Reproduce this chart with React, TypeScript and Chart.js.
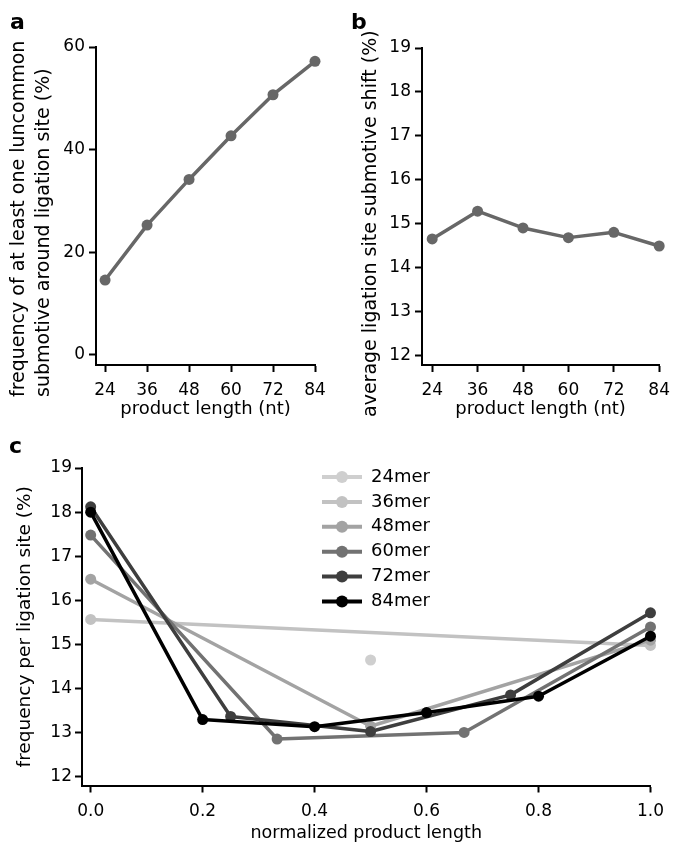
import React, { useEffect, useRef } from "react";
import { Chart, registerables } from "chart.js";

Chart.register(...registerables);

// ---------- data ----------
const lengthsNt = [24, 36, 48, 60, 72, 84];
const uncommonFreq = [14.6, 25.3, 34.2, 42.7, 50.7, 57.2];
const avgShift = [14.66, 15.29, 14.91, 14.69, 14.81, 14.5];

const ticksA = [0, 20, 40, 60];
const ticksB = [12, 13, 14, 15, 16, 17, 18, 19];
const ticksCX = [0, 0.2, 0.4, 0.6, 0.8, 1.0];
const ticksCY = [12, 13, 14, 15, 16, 17, 18, 19];

const seriesLabels = ["24mer", "36mer", "48mer", "60mer", "72mer", "84mer"];

const pos24 = [0.5];
const val24 = [14.65];
const pos36 = [0, 1];
const val36 = [15.57, 14.98];
const pos48 = [0, 0.5, 1];
const val48 = [16.48, 13.15, 15.1];
const pos60 = [0, 0.333, 0.667, 1];
const val60 = [17.48, 12.86, 13.01, 15.4];
const pos72 = [0, 0.25, 0.5, 0.75, 1];
const val72 = [18.12, 13.37, 13.03, 13.86, 15.72];
const pos84 = [0, 0.2, 0.4, 0.6, 0.8, 1];
const val84 = [18.0, 13.3, 13.14, 13.46, 13.83, 15.19];

// ---------- styles ----------
const FONT = "'DejaVu Sans', 'Liberation Sans', sans-serif";
const GRAY = "#676767";
const seriesColors = ["#cfcfcf", "#c2c2c2", "#a3a3a3", "#727272", "#3e3e3e", "#000000"];

const toPts = (xs: number[], ys: number[]) => xs.map((x, i) => ({ x, y: ys[i] }));

const fixedTicks = (values: number[]) => (scale: any) => {
  scale.ticks = values.map((v) => ({ value: v }));
};

const overlayPlugin = {
  id: "overlay",
  afterDraw(chart: any, _args: any, opts: any) {
    const ctx = chart.ctx;
    ctx.save();
    ctx.fillStyle = "#000";
    if (opts.letter) {
      ctx.font = `bold ${opts.letter.size}px ${FONT}`;
      ctx.textAlign = "left";
      ctx.textBaseline = "alphabetic";
      ctx.fillText(opts.letter.text, opts.letter.x, opts.letter.y);
    }
    (opts.vtitles || []).forEach((t: any) => {
      ctx.save();
      ctx.translate(t.x, t.y);
      ctx.rotate(-Math.PI / 2);
      ctx.font = `${t.size}px ${FONT}`;
      ctx.textAlign = "left";
      ctx.textBaseline = "middle";
      ctx.fillStyle = "#000";
      ctx.fillText(t.text, 0, 0);
      ctx.restore();
    });
    if (opts.legend) {
      const L = opts.legend;
      chart.data.datasets.forEach((ds: any, i: number) => {
        const y = L.y + i * L.step;
        ctx.strokeStyle = ds.borderColor;
        ctx.fillStyle = ds.borderColor;
        ctx.lineWidth = 4;
        ctx.lineCap = "butt";
        ctx.beginPath();
        ctx.moveTo(L.x, y);
        ctx.lineTo(L.x + L.lineLen, y);
        ctx.stroke();
        ctx.beginPath();
        ctx.arc(L.x + L.lineLen / 2, y, 6, 0, Math.PI * 2);
        ctx.fill();
        ctx.fillStyle = "#000";
        ctx.font = `${L.size}px ${FONT}`;
        ctx.textAlign = "left";
        ctx.textBaseline = "middle";
        ctx.fillText(ds.label, L.x + L.lineLen + L.gap, y);
      });
    }
    ctx.restore();
  },
};

function axis(o: {
  min: number;
  max: number;
  ticks: number[];
  fmt: (v: number) => string;
  width?: number;
  height?: number;
  pad: number;
  title?: any;
}) {
  return {
    type: "linear",
    min: o.min,
    max: o.max,
    afterBuildTicks: fixedTicks(o.ticks),
    afterFit: (s: any) => {
      if (o.width !== undefined) s.width = o.width;
      if (o.height !== undefined) s.height = o.height;
    },
    grid: {
      display: true,
      drawOnChartArea: false,
      drawTicks: true,
      tickLength: 7,
      tickWidth: 2,
      tickColor: "#000",
      color: "#000",
    },
    border: { display: true, color: "#000", width: 2 },
    ticks: {
      autoSkip: false,
      maxRotation: 0,
      minRotation: 0,
      padding: o.pad,
      color: "#000",
      font: { family: FONT, size: 17 },
      callback: (v: any) => o.fmt(Number(v)),
    },
    title: o.title || { display: false },
  };
}

const baseOptions = {
  animation: false,
  responsive: false,
  maintainAspectRatio: false,
  events: [],
  plugins: { legend: { display: false }, tooltip: { enabled: false } },
};

function lineDs(label: string, data: any[], color: string, order = 0) {
  return {
    label,
    data,
    borderColor: color,
    backgroundColor: color,
    pointBackgroundColor: color,
    pointBorderColor: color,
    pointBorderWidth: 0,
    borderWidth: 3.5,
    pointRadius: 5.5,
    tension: 0,
    clip: false,
    borderCapStyle: "round",
    borderJoinStyle: "round",
    order,
  };
}

function configA(): any {
  return {
    type: "line",
    data: { datasets: [lineDs("a", toPts(lengthsNt, uncommonFreq), GRAY)] },
    options: {
      ...baseOptions,
      layout: { padding: { top: 47, right: 24, left: 0, bottom: 0 } },
      plugins: {
        ...baseOptions.plugins,
        overlay: {
          letter: { text: "a", x: 10, y: 29, size: 22 },
          vtitles: [
            { text: "frequency of at least one luncommon", x: 19, y: 397, size: 19 },
            { text: "submotive around ligation site (%)", x: 44.5, y: 397, size: 19 },
          ],
        },
      },
      scales: {
        x: axis({
          min: 21.4,
          max: 84,
          ticks: lengthsNt,
          fmt: (v) => String(v),
          height: 55,
          pad: 8,
          title: {
            display: true,
            text: "product length (nt)",
            color: "#000",
            font: { family: FONT, size: 18 },
            padding: { top: 0, bottom: 0 },
          },
        }),
        y: axis({ min: -1.95, max: 60, ticks: ticksA, fmt: (v) => String(v), width: 96, pad: 4 }),
      },
    },
    plugins: [overlayPlugin],
  };
}

function configB(): any {
  return {
    type: "line",
    data: { datasets: [lineDs("b", toPts(lengthsNt, avgShift), GRAY)] },
    options: {
      ...baseOptions,
      layout: { padding: { top: 48, right: 13, left: 0, bottom: 0 } },
      plugins: {
        ...baseOptions.plugins,
        overlay: {
          letter: { text: "b", x: 12, y: 29, size: 22 },
          vtitles: [{ text: "average ligation site submotive shift (%)", x: 32, y: 417, size: 19 }],
        },
      },
      scales: {
        x: axis({
          min: 21.3,
          max: 84,
          ticks: lengthsNt,
          fmt: (v) => String(v),
          height: 55,
          pad: 8,
          title: {
            display: true,
            text: "product length (nt)",
            color: "#000",
            font: { family: FONT, size: 18 },
            padding: { top: 0, bottom: 0 },
          },
        }),
        y: axis({ min: 11.795, max: 19, ticks: ticksB, fmt: (v) => String(v), width: 83, pad: 4 }),
      },
    },
    plugins: [overlayPlugin],
  };
}

function configC(): any {
  const posList = [pos24, pos36, pos48, pos60, pos72, pos84];
  const valList = [val24, val36, val48, val60, val72, val84];
  const datasets = seriesLabels.map((lab, i) =>
    lineDs(lab, toPts(posList[i], valList[i]), seriesColors[i], seriesLabels.length - 1 - i)
  );
  return {
    type: "line",
    data: { datasets },
    options: {
      ...baseOptions,
      layout: { padding: { top: 48, right: 27.5, left: 0, bottom: 0 } },
      plugins: {
        ...baseOptions.plugins,
        overlay: {
          letter: { text: "c", x: 9, y: 33, size: 22 },
          legend: { x: 322, y: 57, step: 24.9, lineLen: 40, gap: 9, size: 18 },
        },
      },
      scales: {
        x: axis({
          min: -0.0155,
          max: 1,
          ticks: ticksCX,
          fmt: (v) => v.toFixed(1),
          height: 58.5,
          pad: 9,
          title: {
            display: true,
            text: "normalized product length",
            color: "#000",
            font: { family: FONT, size: 17.5 },
            padding: { top: 0, bottom: 0 },
          },
        }),
        y: axis({
          min: 11.807,
          max: 19,
          ticks: ticksCY,
          fmt: (v) => String(v),
          width: 82,
          pad: 3,
          title: {
            display: true,
            text: "frequency per ligation site (%)",
            color: "#000",
            font: { family: FONT, size: 18.5 },
            padding: { top: 14.4, bottom: 0 },
          },
        }),
      },
    },
    plugins: [overlayPlugin],
  };
}

function Panel(props: { make: () => any; left: number; top: number; width: number; height: number }) {
  const ref = useRef<HTMLCanvasElement | null>(null);
  useEffect(() => {
    if (!ref.current) return;
    const chart = new Chart(ref.current, props.make());
    return () => chart.destroy();
  }, []);
  return (
    <canvas
      ref={ref}
      width={props.width}
      height={props.height}
      style={{
        position: "absolute",
        left: props.left,
        top: props.top,
        width: props.width,
        height: props.height,
        display: "block",
      }}
    />
  );
}

export default function App() {
  return (
    <div
      style={{
        position: "absolute",
        left: 0,
        top: 0,
        width: 678,
        height: 844,
        background: "#fff",
        overflow: "hidden",
      }}
    >
      <Panel make={configA} left={0} top={0} width={339} height={420} />
      <Panel make={configB} left={339} top={0} width={339} height={420} />
      <Panel make={configC} left={0} top={420} width={678} height={424} />
    </div>
  );
}
